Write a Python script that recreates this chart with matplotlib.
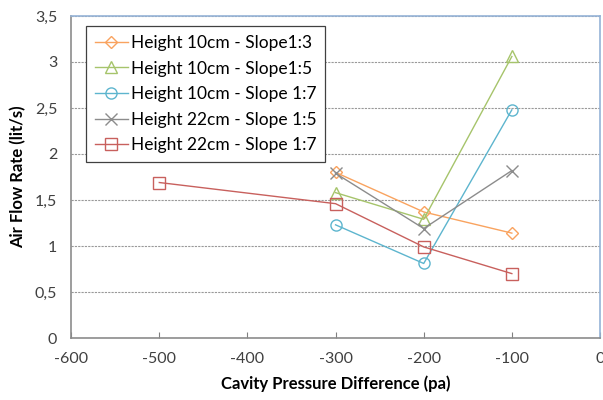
import matplotlib
matplotlib.use("Agg")
import matplotlib.pyplot as plt
from matplotlib.ticker import FuncFormatter, MultipleLocator

plt.rcParams['font.family'] = ['Lato', 'DejaVu Sans']

# data
x_h10_s13 = [-300, -200, -100]
y_h10_s13 = [1.80, 1.37, 1.14]
x_h10_s15 = [-300, -200, -100]
y_h10_s15 = [1.58, 1.29, 3.06]
x_h10_s17 = [-300, -200, -100]
y_h10_s17 = [1.23, 0.81, 2.48]
x_h22_s15 = [-300, -200, -100]
y_h22_s15 = [1.79, 1.19, 1.82]
x_h22_s17 = [-500, -300, -200, -100]
y_h22_s17 = [1.69, 1.46, 0.99, 0.70]

labels = ["Height 10cm - Slope1:3", "Height 10cm - Slope1:5",
          "Height 10cm - Slope 1:7", "Height 22cm - Slope 1:5",
          "Height 22cm - Slope 1:7"]

fig = plt.figure(figsize=(6.03, 4.0), dpi=100)
ax = fig.add_axes([0.118, 0.155, 0.877, 0.805])

ax.plot(x_h10_s13, y_h10_s13, color='#F9A35F', marker='D', markersize=6,
        mfc='none', mew=1, lw=1.0, label=labels[0])
ax.plot(x_h10_s15, y_h10_s15, color='#A6C46B', marker='^', markersize=8,
        mfc='none', mew=1, lw=1.0, label=labels[1])
ax.plot(x_h10_s17, y_h10_s17, color='#5DB5CE', marker='o', markersize=8,
        mfc='none', mew=1, lw=1.0, label=labels[2])
ax.plot(x_h22_s15, y_h22_s15, color='#8C8C8C', marker='x', markersize=9,
        mew=1, lw=1.0, label=labels[3])
ax.plot(x_h22_s17, y_h22_s17, color='#C8605D', marker='s', markersize=8,
        mfc='none', mew=1, lw=1.0, label=labels[4])

ax.set_xlim(-600, 0)
ax.set_ylim(0, 3.5)
ax.xaxis.set_major_locator(MultipleLocator(100))
ax.yaxis.set_major_locator(MultipleLocator(0.5))
ax.yaxis.set_major_formatter(FuncFormatter(lambda v, p: ('%g' % v).replace('.', ',')))
ax.xaxis.set_major_formatter(FuncFormatter(lambda v, p: '%d' % v))

ax.grid(axis='y', color='#999999', linestyle=(0, (2, 1)), lw=0.8)
ax.set_axisbelow(True)

ax.tick_params(axis='y', length=0, labelsize=11.5, pad=10, colors='#404040')
ax.tick_params(axis='x', direction='in', length=4, labelsize=11.5, pad=10,
               colors='#404040', color='#808080')

for s in ['left', 'bottom']:
    ax.spines[s].set_color('#8C8C8C')
    ax.spines[s].set_linewidth(1.2)
for s in ['top', 'right']:
    ax.spines[s].set_color('#95B3D7')
    ax.spines[s].set_linewidth(1.2)

ax.set_xlabel('Cavity Pressure Difference (pa)', fontsize=12, fontweight='bold', labelpad=7)
ax.set_ylabel('Air Flow Rate (lit/s)', fontsize=12, fontweight='bold', labelpad=6)

leg = ax.legend(loc='upper left', bbox_to_anchor=(0.028, 0.968), borderaxespad=0,
                fontsize=12.5, fancybox=False, edgecolor='#404040', framealpha=1,
                handlelength=1.9, borderpad=0.5, labelspacing=0.55, handletextpad=0.2)
leg.get_frame().set_linewidth(0.9)

fig.savefig('out.png', dpi=100)
